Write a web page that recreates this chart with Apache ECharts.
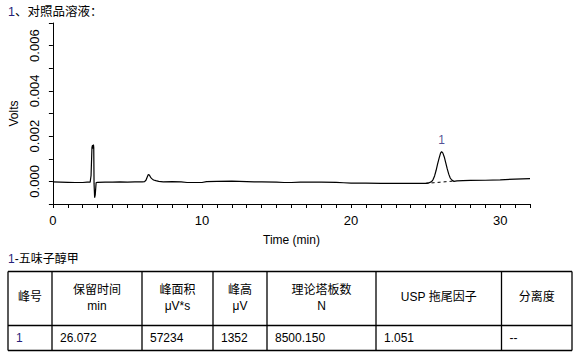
<!DOCTYPE html>
<html>
<head>
<meta charset="utf-8">
<script src="https://cdn.jsdelivr.net/npm/echarts@6/dist/echarts.min.js"></script>
<style>
html,body{margin:0;padding:0;background:#fff;}
#c{width:582px;height:360px;}
</style>
</head>
<body>
<div id="c"></div>
<script>
// ---- data ----
const times = [0, 0.5, 1, 1.5, 2, 2.3, 2.5, 2.56, 2.58, 2.62, 2.66, 2.7, 2.72, 2.74, 2.76, 2.8, 2.84, 2.9, 3.0, 3.5, 4, 4.5, 5, 5.5, 6.0, 6.15, 6.25, 6.32, 6.4, 6.47, 6.55, 6.65, 6.75, 6.9, 7.1, 7.4, 8, 8.6, 9, 10, 10.3, 11, 12, 13, 13.5, 14, 15, 15.5, 16, 16.6, 17, 18, 19, 19.5, 20, 21, 22, 23, 24, 24.8, 25.0, 25.2, 25.4, 25.5, 25.6, 25.7, 25.8, 25.9, 26.0, 26.07, 26.15, 26.25, 26.35, 26.45, 26.55, 26.65, 26.75, 26.9, 27.1, 27.5, 28, 29, 30, 31, 32];
const volts = [-0.00002, -0.00003, -0.00004, -0.00005, -0.00005, -0.00003, -0.00003, 0.00026, 0.00026, 0.00150, 0.00160, 0.00145, 0.00163, 0.00150, -0.00010, -0.00072, -0.00060, -0.00005, -0.00004, -0.00003, -0.00003, -0.00002, -0.00003, -0.00002, -0.00002, -0.00001, 0.00006, 0.00018, 0.00030, 0.00028, 0.00018, 0.00011, 0.00006, 0.00003, 0.00000, -0.00002, -0.00001, -0.00002, -0.00005, -0.00005, -0.00001, 0.00000, 0.00001, -0.00001, -0.00002, -0.00002, -0.00003, -0.00005, -0.00005, -0.00003, -0.00003, -0.00003, -0.00004, -0.00006, -0.00008, -0.00008, -0.00009, -0.00009, -0.00009, -0.00009, -0.00009, -0.00007, -0.00001, 0.00008, 0.00024, 0.00048, 0.00076, 0.00102, 0.00125, 0.00131, 0.00126, 0.00108, 0.00082, 0.00055, 0.00032, 0.00015, 0.00006, 0.00000, 0.00002, 0.00003, 0.00004, 0.00005, 0.00007, 0.00010, 0.00012];
const baselineTimes = [25.0, 27.0];
const baselineVolts = [-0.00009, 0.00002];
const peakLabels = ['1'];
const peakTimes = [26.07];
const peakVolts = [0.00131];

const chartTitleNum = '1';
const chartTitleText = '、对照品溶液：';
const tableTitleNum = '1';
const tableTitleText = '-五味子醇甲';
const headerNames = ['峰号', '保留时间', '峰面积', '峰高', '理论塔板数', 'USP 拖尾因子', '分离度'];
const headerUnits = ['', 'min', 'μV*s', 'μV', 'N', '', ''];
const rowValues = ['1', '26.072', '57234', '1352', '8500.150', '1.051', '--'];

// ---- layout ----
const FONT = '"Liberation Sans", Arial, "Noto Sans CJK SC", sans-serif';
const colEdges = [8, 52, 142, 213, 267, 376, 501.5, 572];
const rowEdges = [271.5, 325.5, 350.5];
const BLUE = '#261f7a';

const el = echarts.init(document.getElementById('c'), null, {renderer: 'svg'});

const graphics = [];
function txt(x, y, s, opts) {
  opts = opts || {};
  graphics.push({
    type: 'text', x: x, y: y, silent: true,
    style: {
      text: s, fill: opts.color || '#000',
      font: (opts.size || 12) + 'px ' + FONT,
      align: opts.align || 'left', verticalAlign: 'middle',
      textAlign: opts.align || 'left', textVerticalAlign: 'middle'
    }
  });
}
// titles
txt(8, 12, chartTitleNum, {color: BLUE, size: 12.5});
txt(15, 12, chartTitleText, {size: 12.5});
txt(8, 259, tableTitleNum, {color: BLUE});
txt(14.7, 259, tableTitleText);
// table borders
rowEdges.forEach(function (y) {
  graphics.push({type: 'line', silent: true, shape: {x1: colEdges[0], y1: y, x2: colEdges[colEdges.length - 1], y2: y}, style: {stroke: '#000', lineWidth: 1.3}});
});
colEdges.forEach(function (x) {
  graphics.push({type: 'line', silent: true, shape: {x1: x, y1: rowEdges[0], x2: x, y2: rowEdges[rowEdges.length - 1]}, style: {stroke: '#000', lineWidth: 1.3}});
});
// table text
headerNames.forEach(function (h, i) {
  const cx = (colEdges[i] + colEdges[i + 1]) / 2;
  if (headerUnits[i]) {
    txt(cx, 290, h, {align: 'center'});
    txt(cx, 306, headerUnits[i], {align: 'center'});
  } else {
    txt(cx, 297, h, {align: 'center'});
  }
  txt(colEdges[i] + 8, 337.5, rowValues[i], {color: i === 0 ? BLUE : '#000'});
});

const lineData = times.map(function (t, i) { return [t, volts[i]]; });
const baseData = baselineTimes.map(function (t, i) { return [t, baselineVolts[i]]; });
const peakData = peakTimes.map(function (t, i) { return {value: [t, peakVolts[i]], name: peakLabels[i]}; });

el.setOption({
  animation: false,
  backgroundColor: '#fff',
  textStyle: {fontFamily: FONT},
  grid: {left: 51.5, right: 52, top: 23, bottom: 156, containLabel: false},
  xAxis: {
    type: 'value', min: 0, max: 32, interval: 1,
    name: 'Time (min)', nameLocation: 'middle', nameGap: 30,
    nameTextStyle: {color: '#000', fontSize: 12, fontFamily: FONT},
    axisLine: {show: true, onZero: false, lineStyle: {color: '#000', width: 1}},
    axisTick: {show: true, inside: false, length: 4, lineStyle: {color: '#000'}},
    axisLabel: {color: '#000', fontSize: 13, margin: 10, fontFamily: FONT,
      formatter: function (v) { return (Math.round(v) % 10 === 0) ? String(Math.round(v)) : ''; }},
    splitLine: {show: false}
  },
  yAxis: {
    type: 'value', min: -0.001, max: 0.007, interval: 0.001,
    name: 'Volts', nameLocation: 'middle', nameGap: 31, nameRotate: 90,
    nameTextStyle: {color: '#000', fontSize: 12, fontFamily: FONT},
    axisLine: {show: true, onZero: false, lineStyle: {color: '#000', width: 1}},
    axisTick: {show: true, inside: false, length: 4, lineStyle: {color: '#000'}},
    axisLabel: {color: '#000', fontSize: 13, margin: 12, rotate: 90, fontFamily: FONT,
      formatter: function (v) { const k = Math.round(v * 1000); return (k % 2 === 0 && k >= 0 && k <= 6) ? v.toFixed(3) : ''; }},
    splitLine: {show: false}
  },
  series: [
    {type: 'line', data: lineData, showSymbol: false, symbol: 'none', smooth: false,
      lineStyle: {color: '#000', width: 1.2}, silent: true, z: 3},
    {type: 'line', data: baseData, showSymbol: false, symbol: 'none',
      lineStyle: {color: '#000', width: 1, type: [3, 3]}, silent: true, z: 2},
    {type: 'scatter', data: peakData, symbolSize: 0, silent: true,
      label: {show: true, position: 'top', distance: 6, formatter: function (p) { return p.name; },
        color: BLUE, fontSize: 12, fontFamily: FONT}}
  ],
  graphic: graphics
});
</script>
</body>
</html>
